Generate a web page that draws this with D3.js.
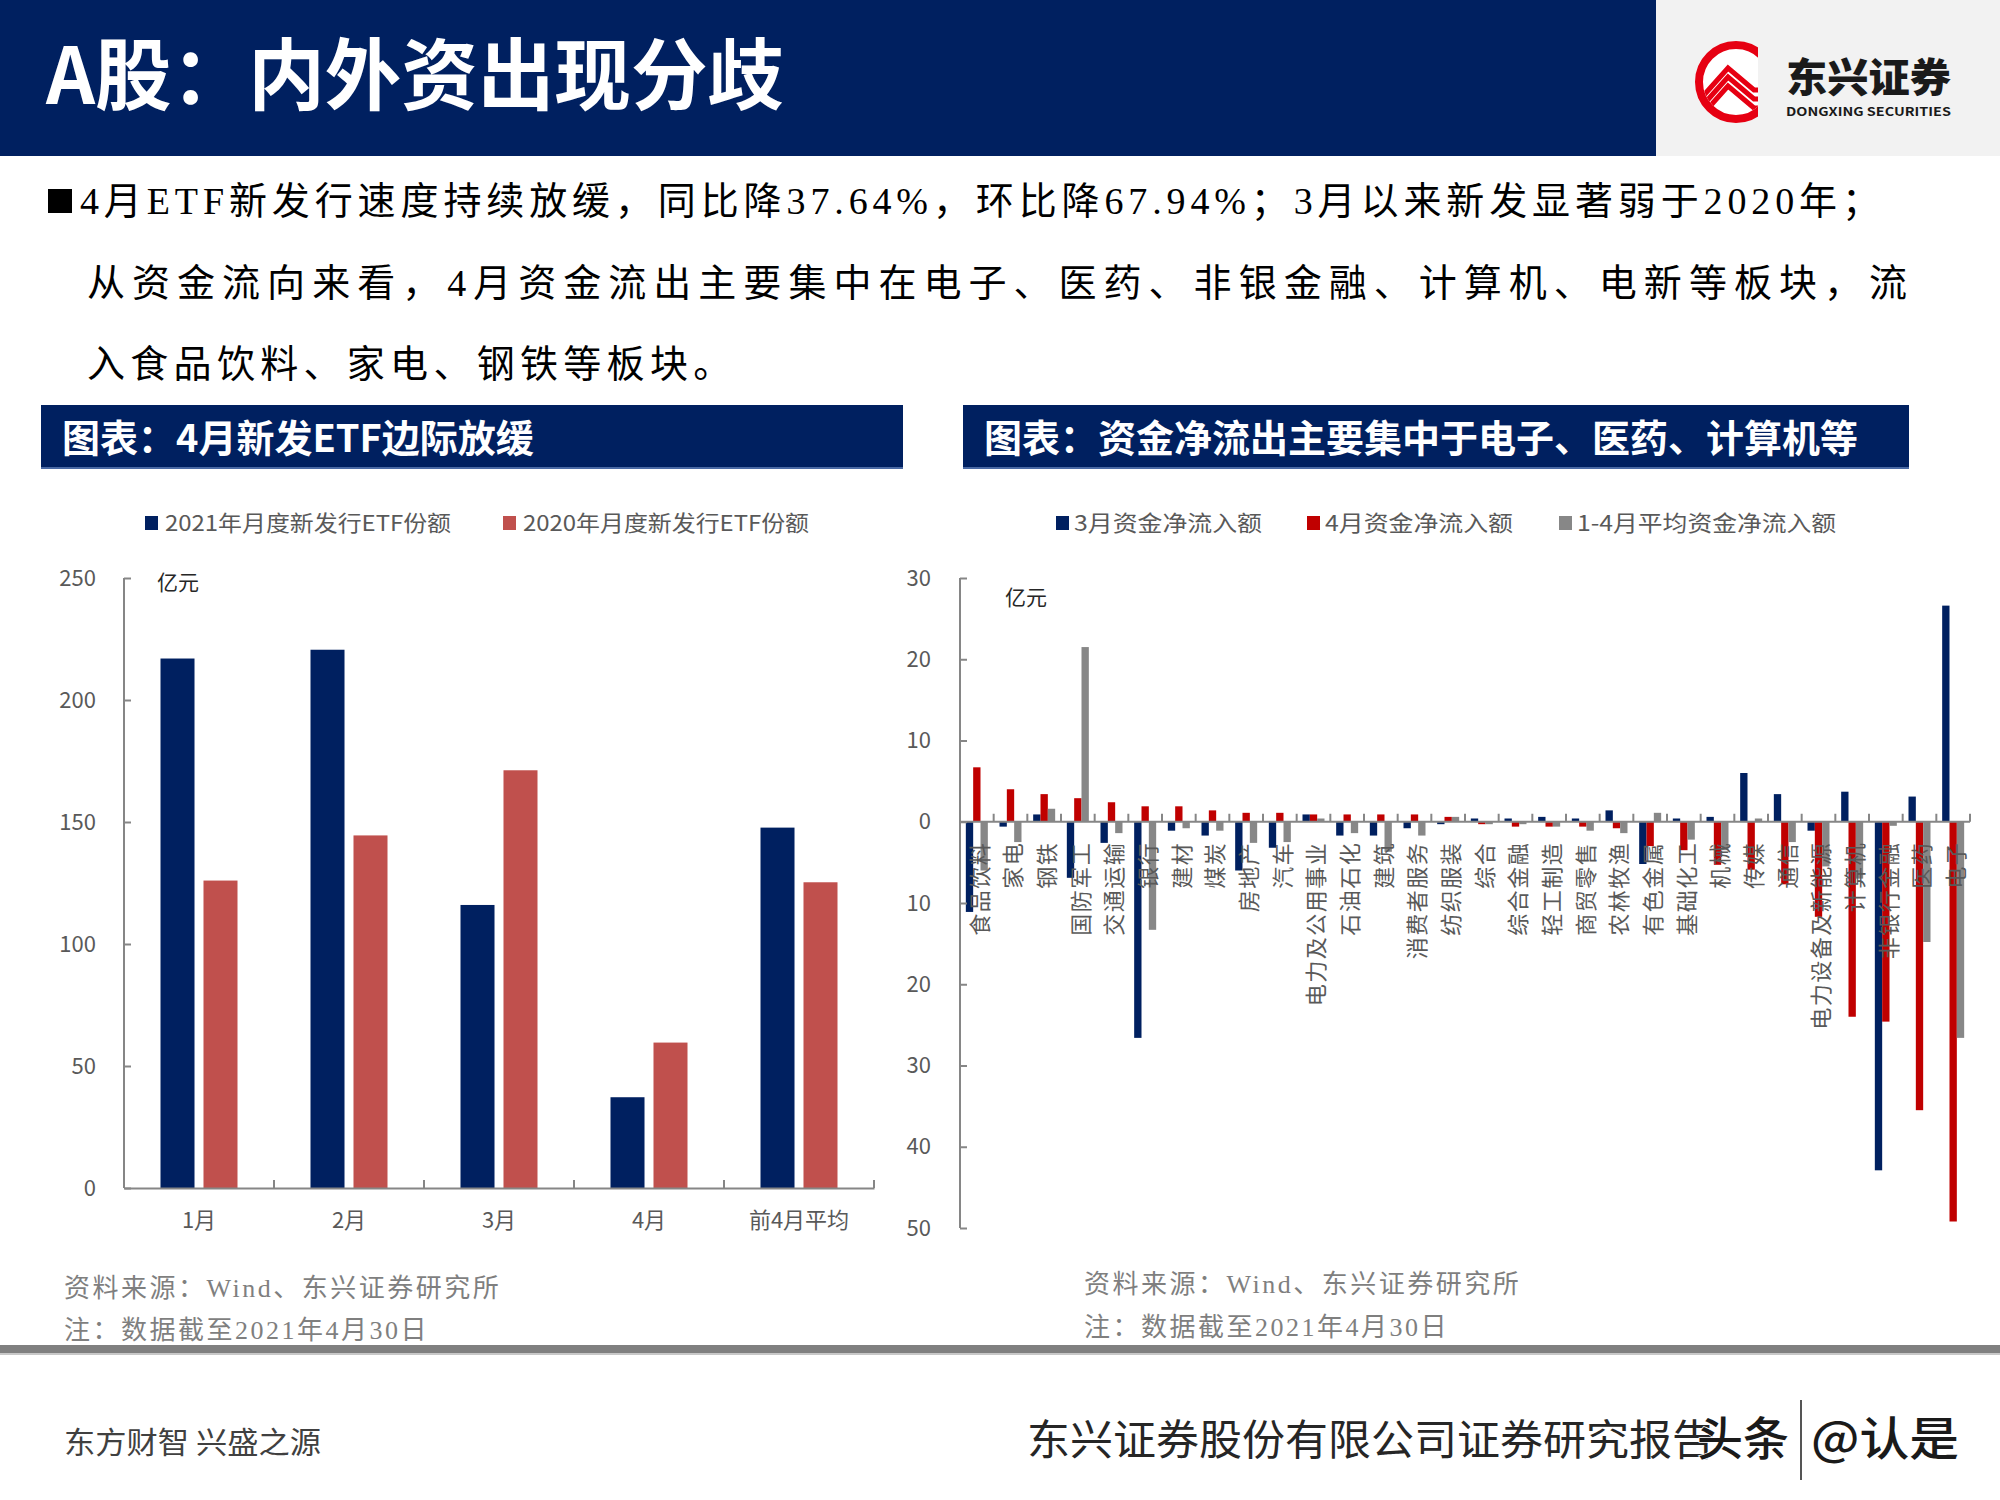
<!DOCTYPE html>
<html>
<head>
<meta charset="utf-8">
<script src="https://cdn.jsdelivr.net/npm/d3@7/dist/d3.min.js"></script>
<style>
  html, body { margin: 0; padding: 0; background: #fff; }
  svg { display: block; }
</style>
</head>
<body>
<svg id="c" width="2000" height="1500"></svg>
<script>
// ---------------- DATA ----------------
const etfMonths = ["1月", "2月", "3月", "4月", "前4月平均"];
const etfSeries = ["2021年月度新发行ETF份额", "2020年月度新发行ETF份额"];
const etf2021 = [217.0, 220.6, 116.0, 37.2, 147.7];
const etf2020 = [126.0, 144.5, 171.2, 59.6, 125.3];
const etfTicks = [0, 50, 100, 150, 200, 250];

const flowCats = ["食品饮料", "家电", "钢铁", "国防军工", "交通运输", "银行", "建材", "煤炭", "房地产", "汽车",
  "电力及公用事业", "石油石化", "建筑", "消费者服务", "纺织服装", "综合", "综合金融", "轻工制造", "商贸零售", "农林牧渔",
  "有色金属", "基础化工", "机械", "传媒", "通信", "电力设备及新能源", "计算机", "非银行金融", "医药", "电子"];
const flowSeries = ["3月资金净流入额", "4月资金净流入额", "1-4月平均资金净流入额"];
const flowMar = [-11.1, -0.6, 0.9, -6.9, -2.6, -26.6, -1.1, -1.7, -6.0, -3.2,
  0.9, -1.7, -1.7, -0.8, -0.3, 0.4, 0.4, 0.6, 0.4, 1.4,
  -5.2, 0.4, 0.6, 6.0, 3.4, -1.1, 3.7, -42.9, 3.1, 26.6];
const flowApr = [6.7, 4.0, 3.4, 2.9, 2.4, 1.9, 1.9, 1.4, 1.1, 1.1,
  0.9, 0.9, 0.9, 0.9, 0.6, -0.3, -0.6, -0.6, -0.6, -0.8,
  -3.0, -3.5, -5.3, -5.9, -7.7, -11.7, -24.0, -24.6, -35.5, -49.2];
const flowAvg = [-6.0, -2.5, 1.6, 21.5, -1.4, -13.3, -0.8, -1.1, -2.6, -2.5,
  0.4, -1.4, -3.7, -1.7, 0.6, -0.3, -0.3, -0.6, -1.1, -1.4,
  1.1, -2.2, -3.5, 0.4, -2.5, -5.5, -7.0, -0.5, -14.8, -26.6];
const flowTicks = [-50, -40, -30, -20, -10, 0, 10, 20, 30];

// ---------------- STYLE ----------------
const NAVY = "#002060";
const AXIS = "#868686";
const LABEL = "#595959";
const SANS = "'Noto Sans CJK SC', 'Microsoft YaHei', sans-serif";
const SERIF = "'Liberation Serif', 'Times New Roman', 'Noto Sans CJK SC', serif";

const svg = d3.select("#c");
svg.append("rect").attr("width", 2000).attr("height", 1500).attr("fill", "#fff");

// ---------------- HEADER ----------------
svg.append("rect").attr("x", 0).attr("y", 0).attr("width", 1656).attr("height", 156).attr("fill", NAVY);
svg.append("rect").attr("x", 1656).attr("y", 0).attr("width", 344).attr("height", 156).attr("fill", "#f2f2f2");
svg.append("text").attr("x", 46).attr("y", 104)
  .attr("font-family", SANS).attr("font-weight", 700).attr("font-size", 78)
  .attr("fill", "#fff").attr("textLength", 738).attr("lengthAdjust", "spacingAndGlyphs")
  .text("A股：内外资出现分歧");

// logo
const logo = svg.append("g");
const cx = 1736, cy = 82, r = 37;
logo.append("clipPath").attr("id", "lc").append("circle").attr("cx", cx).attr("cy", cy).attr("r", r - 4);
logo.append("circle").attr("cx", cx).attr("cy", cy).attr("r", r).attr("fill", "#fff")
  .attr("stroke", "#e60012").attr("stroke-width", 8);
const stripes = logo.append("g").attr("clip-path", "url(#lc)");
[0, 9, 18].forEach(o => {
  stripes.append("polyline")
    .attr("points", `${cx - 40},${cy + 22 + o} ${cx - 8},${cy - 14 + o} ${cx + 18},${cy + 8 + o} ${cx + 40},${cy + 8 + o}`)
    .attr("fill", "none").attr("stroke", "#e60012").attr("stroke-width", 5);
});
logo.append("rect").attr("x", cx + 22).attr("y", cy - 40).attr("width", 20).attr("height", 80).attr("fill", "#f2f2f2");
logo.append("text").attr("x", 1786).attr("y", 92).attr("font-family", SANS).attr("font-weight", 900)
  .attr("font-size", 40).attr("fill", "#1a1a1a").attr("textLength", 165).attr("lengthAdjust", "spacingAndGlyphs")
  .text("东兴证券");
logo.append("text").attr("x", 1786).attr("y", 116).attr("font-family", SANS).attr("font-weight", 700)
  .attr("font-size", 12).attr("fill", "#1a1a1a").attr("textLength", 165).attr("lengthAdjust", "spacingAndGlyphs")
  .text("DONGXING SECURITIES");

// ---------------- BULLET TEXT ----------------
svg.append("rect").attr("x", 48).attr("y", 189).attr("width", 24).attr("height", 24).attr("fill", "#000");
const body = svg.append("g").attr("font-family", SERIF).attr("font-size", 38).attr("fill", "#000");
body.append("text").attr("x", 80).attr("y", 214).attr("textLength", 1800).attr("lengthAdjust", "spacing")
  .text("4月ETF新发行速度持续放缓，同比降37.64%，环比降67.94%；3月以来新发显著弱于2020年；");
body.append("text").attr("x", 87).attr("y", 296).attr("textLength", 1820).attr("lengthAdjust", "spacing")
  .text("从资金流向来看，4月资金流出主要集中在电子、医药、非银金融、计算机、电新等板块，流");
body.append("text").attr("x", 87).attr("y", 377).attr("letter-spacing", 5.3)
  .text("入食品饮料、家电、钢铁等板块。");

// ---------------- CHART TITLE BOXES ----------------
function titleBox(x, w, label) {
  svg.append("rect").attr("x", x).attr("y", 405).attr("width", w).attr("height", 64).attr("fill", NAVY);
  svg.append("rect").attr("x", x).attr("y", 467).attr("width", w).attr("height", 2).attr("fill", "#4a6aa5");
  svg.append("text").attr("x", x + 21).attr("y", 452).attr("font-family", SANS).attr("font-weight", 700)
    .attr("font-size", 38).attr("fill", "#fff").text(label);
}
titleBox(41, 862, "图表：4月新发ETF边际放缓");
titleBox(963, 946, "图表：资金净流出主要集中于电子、医药、计算机等");

// ---------------- LEFT CHART ----------------
const L = { x0: 124, x1: 874, y0: 1188, y1: 578 };
const lx = d3.scaleBand().domain(etfMonths).range([L.x0, L.x1]);
const lx1 = d3.scaleBand().domain(etfSeries).range([0, 77]).paddingInner(0.209);
const ly = d3.scaleLinear().domain([0, 250]).range([L.y0, L.y1]);
const lColors = d3.scaleOrdinal().domain(etfSeries).range([NAVY, "#c0504d"]);
const etfRows = etfMonths.map((m, i) => ({ m, v: [etf2021[i], etf2020[i]] }));

const lg = svg.append("g");
lg.selectAll("g.grp").data(etfRows).join("g")
  .attr("transform", d => `translate(${lx(d.m) + (lx.bandwidth() - 77) / 2},0)`)
  .selectAll("rect").data(d => d.v.map((v, k) => ({ s: etfSeries[k], v })))
  .join("rect")
  .attr("x", d => lx1(d.s)).attr("width", lx1.bandwidth())
  .attr("y", d => ly(d.v)).attr("height", d => ly(0) - ly(d.v))
  .attr("fill", d => lColors(d.s));

// y axis
const lyAxis = lg.append("g").attr("transform", `translate(${L.x0},0)`)
  .call(d3.axisLeft(ly).tickValues(etfTicks).tickSize(-7).tickPadding(28).tickFormat(d3.format("d")));
lyAxis.select(".domain").attr("stroke", AXIS).attr("stroke-width", 2).attr("d", `M0,${L.y1}V${L.y0}`);
lyAxis.selectAll(".tick line").attr("stroke", AXIS).attr("stroke-width", 2);
lyAxis.selectAll(".tick text").attr("font-family", SANS).attr("font-size", 22).attr("fill", LABEL);

// x axis
const lxAxis = lg.append("g").attr("transform", `translate(0,${L.y0})`)
  .call(d3.axisBottom(lx).tickSize(0).tickPadding(24));
lxAxis.select(".domain").attr("stroke", AXIS).attr("stroke-width", 2);
lxAxis.selectAll(".tick text").attr("font-family", SANS).attr("font-size", 22).attr("fill", LABEL);
lg.append("g").selectAll("line").data(etfMonths).join("line")
  .attr("x1", d => lx(d) + lx.bandwidth()).attr("x2", d => lx(d) + lx.bandwidth())
  .attr("y1", L.y0).attr("y2", L.y0 - 8).attr("stroke", AXIS).attr("stroke-width", 2);

lg.append("text").attr("x", 157).attr("y", 590).attr("font-family", SANS).attr("font-size", 21)
  .attr("fill", "#262626").text("亿元");

// legend
const lLeg = lg.append("g").attr("font-family", SANS).attr("font-size", 22).attr("fill", LABEL);
const lLegX = [145, 503];
etfSeries.forEach((s, i) => {
  lLeg.append("rect").attr("x", lLegX[i]).attr("y", 516).attr("width", 13).attr("height", 14).attr("fill", lColors(s));
  lLeg.append("text").attr("x", lLegX[i] + 20).attr("y", 531).attr("textLength", 286).attr("lengthAdjust", "spacingAndGlyphs").text(s);
});

// notes
const lNotes = svg.append("g").attr("font-family", SERIF).attr("font-size", 26).attr("fill", "#7f7f7f");
lNotes.append("text").attr("x", 64).attr("y", 1297).attr("letter-spacing", 2.5).text("资料来源：Wind、东兴证券研究所");
lNotes.append("text").attr("x", 64).attr("y", 1339).attr("letter-spacing", 2.5).text("注：数据截至2021年4月30日");

// ---------------- RIGHT CHART ----------------
const R = { x0: 960, x1: 1970, y0: 1228, y1: 578 };
const rx = d3.scaleBand().domain(flowCats).range([R.x0, R.x1]);
const rx1 = d3.scaleBand().domain(flowSeries).range([0, 22]);
const ry = d3.scaleLinear().domain([-50, 30]).range([R.y0, R.y1]);
const rColors = d3.scaleOrdinal().domain(flowSeries).range([NAVY, "#c00000", "#878787"]);
const flowRows = flowCats.map((c, i) => ({ c, v: [flowMar[i], flowApr[i], flowAvg[i]] }));

const rg = svg.append("g");
rg.selectAll("g.grp").data(flowRows).join("g")
  .attr("transform", d => `translate(${rx(d.c) + (rx.bandwidth() - 22) / 2},0)`)
  .selectAll("rect").data(d => d.v.map((v, k) => ({ s: flowSeries[k], v })))
  .join("rect")
  .attr("x", d => rx1(d.s)).attr("width", rx1.bandwidth())
  .attr("y", d => ry(Math.max(0, d.v))).attr("height", d => Math.abs(ry(d.v) - ry(0)))
  .attr("fill", d => rColors(d.s));

// y axis
const ryAxis = rg.append("g").attr("transform", `translate(${R.x0},0)`)
  .call(d3.axisLeft(ry).tickValues(flowTicks).tickSize(-7).tickPadding(29).tickFormat(d => Math.abs(d)));
ryAxis.select(".domain").attr("stroke", AXIS).attr("stroke-width", 2).attr("d", `M0,${R.y1}V${R.y0}`);
ryAxis.selectAll(".tick line").attr("stroke", AXIS).attr("stroke-width", 2);
ryAxis.selectAll(".tick text").attr("font-family", SANS).attr("font-size", 22).attr("fill", LABEL);

// zero line with category ticks
rg.append("line").attr("x1", R.x0).attr("x2", R.x1).attr("y1", ry(0)).attr("y2", ry(0))
  .attr("stroke", AXIS).attr("stroke-width", 2);
rg.append("g").selectAll("line").data(flowCats).join("line")
  .attr("x1", d => rx(d) + rx.bandwidth()).attr("x2", d => rx(d) + rx.bandwidth())
  .attr("y1", ry(0)).attr("y2", ry(0) - 8).attr("stroke", AXIS).attr("stroke-width", 2);

// rotated category labels
rg.append("g").selectAll("text").data(flowCats).join("text")
  .attr("transform", d => `translate(${rx(d) + rx.bandwidth() / 2 + 3},${ry(0) + 20}) rotate(-90)`)
  .attr("text-anchor", "end").attr("dy", "0.36em")
  .attr("font-family", SANS).attr("font-size", 22).attr("letter-spacing", 1.5).attr("fill", LABEL)
  .text(d => d);

rg.append("text").attr("x", 1005).attr("y", 605).attr("font-family", SANS).attr("font-size", 21)
  .attr("fill", "#262626").text("亿元");

// legend
const rLeg = rg.append("g").attr("font-family", SANS).attr("font-size", 22).attr("fill", LABEL);
const rLegX = [1056, 1307, 1559];
const rLegW = [188, 188, 259];
flowSeries.forEach((s, i) => {
  rLeg.append("rect").attr("x", rLegX[i]).attr("y", 516).attr("width", 13).attr("height", 14).attr("fill", rColors(s));
  rLeg.append("text").attr("x", rLegX[i] + 18).attr("y", 531).attr("textLength", rLegW[i]).attr("lengthAdjust", "spacingAndGlyphs").text(s);
});

// notes
const rNotes = svg.append("g").attr("font-family", SERIF).attr("font-size", 26).attr("fill", "#7f7f7f");
rNotes.append("text").attr("x", 1084).attr("y", 1293).attr("letter-spacing", 2.5).text("资料来源：Wind、东兴证券研究所");
rNotes.append("text").attr("x", 1084).attr("y", 1336).attr("letter-spacing", 2.5).text("注：数据截至2021年4月30日");

// ---------------- FOOTER ----------------
svg.append("rect").attr("x", 0).attr("y", 1345).attr("width", 2000).attr("height", 8).attr("fill", "#808080");
svg.append("rect").attr("x", 0).attr("y", 1353).attr("width", 2000).attr("height", 2).attr("fill", "#c8c8c8");
svg.append("text").attr("x", 64).attr("y", 1453).attr("font-family", SANS).attr("font-size", 30)
  .attr("fill", "#404040").attr("textLength", 257).attr("lengthAdjust", "spacingAndGlyphs").text("东方财智 兴盛之源");
svg.append("text").attr("x", 1027).attr("y", 1455).attr("font-family", SANS).attr("font-size", 42)
  .attr("fill", "#262626").attr("textLength", 688).attr("lengthAdjust", "spacingAndGlyphs")
  .text("东兴证券股份有限公司证券研究报告");
// watermark
const wm = svg.append("g").attr("font-family", SANS).attr("font-size", 46).attr("font-weight", 500)
  .attr("fill", "#1a1a1a").attr("stroke", "#fff").attr("stroke-width", 1.5).attr("paint-order", "stroke");
wm.append("text").attr("x", 1697).attr("y", 1455).text("头条");
wm.append("line").attr("x1", 1801).attr("x2", 1801).attr("y1", 1400).attr("y2", 1480).attr("stroke", "#555").attr("stroke-width", 2);
wm.append("text").attr("x", 1811).attr("y", 1455).attr("textLength", 148).attr("lengthAdjust", "spacingAndGlyphs").text("@认是");
</script>
</body>
</html>
